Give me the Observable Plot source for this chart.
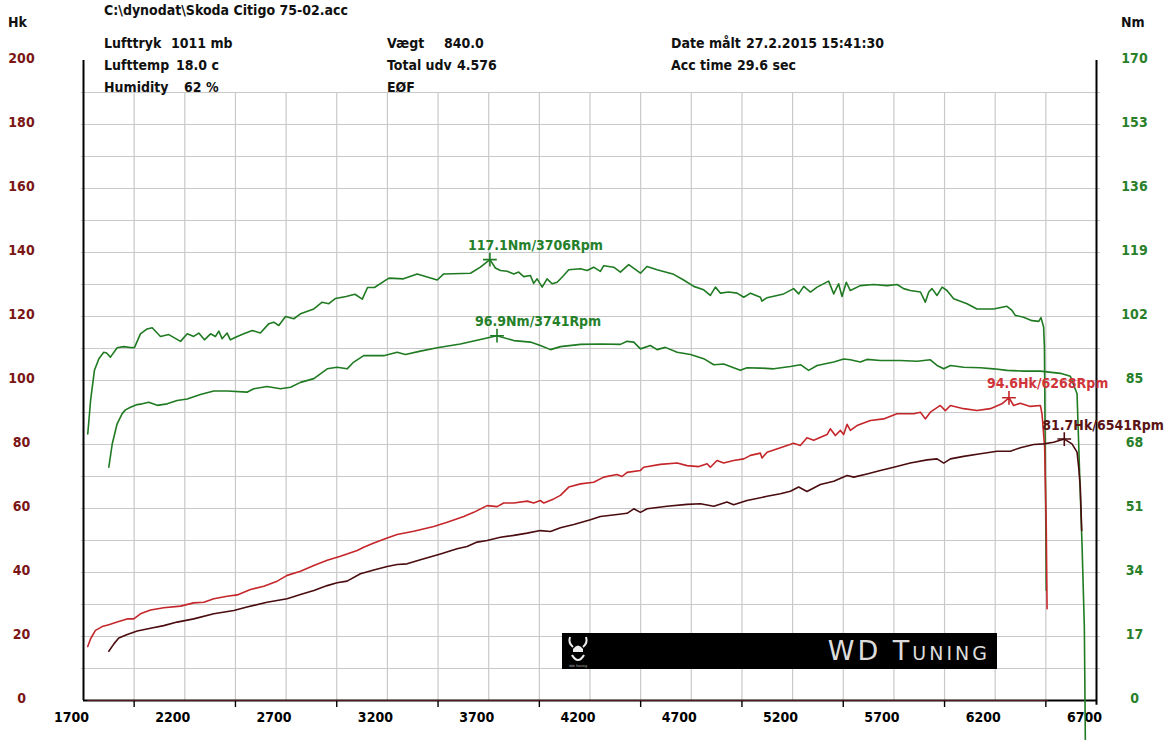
<!DOCTYPE html>
<html><head><meta charset="utf-8">
<script src="https://cdn.jsdelivr.net/npm/d3@7"></script>
<script src="https://cdn.jsdelivr.net/npm/@observablehq/plot@0.6"></script>
<style>
html,body{margin:0;padding:0;background:#fff;}
#wrap{position:relative;width:1170px;height:740px;overflow:hidden;font-family:"DejaVu Sans Condensed","DejaVu Sans",sans-serif;font-weight:bold;}
.t{position:absolute;white-space:pre;font-size:14px;line-height:14px;color:#111;}
#banner{position:absolute;background:#000;}
#banner span{position:absolute;right:7px;top:3px;color:#dcdcdc;font-family:"DejaVu Sans",sans-serif;font-weight:normal;font-variant:small-caps;font-size:27px;letter-spacing:3px;line-height:30px;}
#banner svg{position:absolute;left:3px;top:1px;}
</style></head>
<body><div id="wrap"></div>
<script>
// ---------- data ----------
const fileName = "C:\\dynodat\\Skoda Citigo 75-02.acc";
const infoCol1 = [["Lufttryk", "1011 mb"], ["Lufttemp", "18.0 c"], ["Humidity", "62 %"]];
const infoCol2 = [["Vægt", "840.0"], ["Total udv", "4.576"], ["EØF", ""]];
const infoCol3 = [["Date målt", "27.2.2015 15:41:30"], ["Acc time", "29.6 sec"]];
const leftUnit = "Hk";
const rightUnit = "Nm";
const rpmLabelTicks = [1700, 2200, 2700, 3200, 3700, 4200, 4700, 5200, 5700, 6200, 6700];
const rpmMinorTicks = [1950, 2450, 2950, 3450, 3950, 4450, 4950, 5450, 5950, 6450];
const rpmGrid = [1950, 2200, 2450, 2700, 2950, 3200, 3450, 3700, 3950, 4200, 4450, 4700, 4950, 5200, 5450, 5700, 5950, 6200, 6450];
const hkTicks = [0, 20, 40, 60, 80, 100, 120, 140, 160, 180, 200];
const hkGrid = [10, 20, 30, 40, 50, 60, 70, 80, 90, 100, 110, 120, 130, 140, 150, 160, 170, 180, 190];
const nmMax = 170, hkMax = 200;

// torque run 1 (rpm, Nm)
const torqueHigh = [[1721,70.8],[1735,79.7],[1754,87.7],[1776,90.8],[1800,92.5],[1814,92.3],[1833,91.2],[1866,93.7],[1899,94.0],[1940,93.7],[1952,93.8],[1981,97.4],[2014,98.7],[2039,99.0],[2080,96.7],[2121,97.2],[2179,95.4],[2212,97.4],[2244,96.7],[2269,97.6],[2297,95.8],[2327,97.4],[2351,96.7],[2368,98.1],[2384,96.1],[2409,97.6],[2425,95.8],[2459,96.7],[2491,97.4],[2533,98.3],[2573,97.6],[2615,100.1],[2639,100.5],[2664,99.6],[2697,102.0],[2738,101.4],[2771,102.7],[2837,104.0],[2878,105.8],[2911,105.4],[2944,106.8],[2996,107.3],[3040,107.9],[3076,106.6],[3102,109.7],[3136,109.7],[3190,111.6],[3208,112.2],[3279,112.0],[3347,113.3],[3446,111.7],[3478,113.3],[3610,113.5],[3659,115.1],[3706,117.1],[3733,114.9],[3758,114.2],[3791,114.0],[3824,113.3],[3848,113.8],[3873,112.6],[3906,112.9],[3922,110.8],[3939,112.0],[3964,109.8],[3988,112.0],[4013,110.7],[4038,111.1],[4070,112.9],[4095,114.4],[4153,114.7],[4186,114.2],[4218,115.1],[4251,114.0],[4268,115.5],[4317,115.1],[4350,113.8],[4391,115.8],[4432,114.2],[4449,113.5],[4481,115.3],[4531,114.4],[4613,113.2],[4662,111.7],[4712,110.0],[4761,109.1],[4794,107.6],[4819,109.8],[4844,108.2],[4885,108.5],[4926,108.2],[4959,107.1],[4992,108.2],[5041,107.1],[5049,106.1],[5074,107.0],[5156,108.0],[5205,109.4],[5230,108.0],[5255,110.0],[5288,108.5],[5321,109.8],[5378,111.4],[5403,108.0],[5427,110.7],[5444,107.3],[5465,111.1],[5485,108.9],[5534,110.2],[5600,110.5],[5666,110.2],[5716,110.5],[5748,109.4],[5781,108.9],[5831,108.5],[5855,105.8],[5872,108.5],[5888,109.4],[5913,107.6],[5938,109.8],[5962,108.9],[5995,106.7],[6061,105.4],[6110,104.0],[6192,104.0],[6258,104.7],[6283,103.6],[6299,102.3],[6340,101.8],[6382,100.9],[6415,100.7],[6426,101.7],[6439,99.2],[6443,93.8],[6447,66.4],[6452,29.2]];
// torque run 2 (rpm, Nm)
const torqueLow = [[1825,62.0],[1842,68.2],[1866,73.5],[1891,76.2],[1907,77.2],[1932,77.9],[1965,78.6],[1990,78.8],[2022,79.2],[2064,78.4],[2113,78.8],[2162,79.7],[2212,80.1],[2277,81.3],[2343,82.2],[2409,82.2],[2507,81.9],[2540,82.8],[2606,83.4],[2672,82.8],[2722,83.2],[2771,84.5],[2837,85.5],[2903,88.1],[2952,88.5],[3001,88.1],[3034,89.9],[3083,91.6],[3182,91.6],[3248,92.5],[3289,91.9],[3363,92.8],[3446,93.7],[3560,94.7],[3659,95.9],[3741,96.9],[3824,95.6],[3906,95.2],[3955,94.3],[4005,93.2],[4054,94.0],[4153,94.6],[4251,94.7],[4350,94.6],[4383,95.4],[4416,95.2],[4449,93.4],[4498,94.3],[4531,93.2],[4572,93.8],[4630,92.5],[4696,91.9],[4761,90.8],[4811,89.2],[4860,89.4],[4909,88.4],[4942,87.7],[4975,88.4],[5041,88.3],[5107,88.1],[5189,88.7],[5239,89.2],[5279,87.7],[5321,89.0],[5403,89.9],[5452,90.7],[5485,90.5],[5534,89.9],[5567,90.6],[5633,90.3],[5732,90.3],[5814,90.1],[5880,90.5],[5913,89.0],[5946,88.1],[5979,89.0],[6044,88.5],[6127,88.4],[6192,88.1],[6258,87.7],[6340,87.5],[6423,87.5],[6522,86.9],[6571,86.1],[6604,81.5],[6620,54.9],[6629,40.7],[6640,19.5],[6645,-10.6]];
// power run 1 (rpm, Hk)
const powerHigh = [[1721,16.9],[1735,19.3],[1759,21.9],[1792,23.1],[1825,23.7],[1866,24.5],[1915,25.5],[1948,25.5],[1981,27.1],[2031,28.3],[2096,29.0],[2179,29.5],[2244,30.5],[2294,30.7],[2343,31.8],[2409,32.6],[2459,33.0],[2524,34.7],[2590,35.7],[2656,37.3],[2705,39.1],[2771,40.4],[2837,42.2],[2903,43.8],[2968,45.1],[3051,46.9],[3083,47.9],[3133,49.2],[3199,50.8],[3248,51.9],[3330,52.9],[3429,54.4],[3495,55.7],[3577,57.5],[3626,58.8],[3692,60.9],[3742,60.6],[3774,61.7],[3824,61.7],[3890,62.3],[3922,61.7],[3955,62.5],[3972,61.7],[4021,63.0],[4054,64.1],[4095,66.7],[4153,67.7],[4218,68.2],[4268,69.8],[4333,70.6],[4358,70.0],[4383,71.3],[4449,71.9],[4465,72.9],[4547,73.8],[4630,74.2],[4679,73.4],[4737,73.1],[4778,74.0],[4794,72.9],[4827,75.0],[4860,74.2],[4909,75.0],[4959,75.5],[4992,76.6],[5041,77.3],[5049,75.8],[5074,77.6],[5140,79.0],[5205,80.4],[5238,79.7],[5271,82.1],[5304,81.3],[5370,83.1],[5386,84.9],[5411,82.8],[5436,84.4],[5452,83.1],[5469,86.3],[5485,84.4],[5518,85.9],[5584,87.5],[5649,88.0],[5715,89.6],[5798,89.6],[5831,90.1],[5855,88.0],[5880,90.1],[5929,92.2],[5954,90.6],[5979,92.2],[6044,91.2],[6110,90.6],[6176,91.2],[6233,92.7],[6268,94.6],[6291,92.2],[6324,92.9],[6373,91.9],[6423,92.2],[6431,89.6],[6444,79.2],[6452,54.2],[6456,28.7]];
// power run 2 (rpm, Hk)
const powerLow = [[1825,15.4],[1850,17.7],[1874,19.5],[1916,20.6],[1965,21.7],[2031,22.6],[2096,23.4],[2162,24.5],[2244,25.5],[2343,27.1],[2442,28.1],[2507,29.2],[2606,30.7],[2705,31.8],[2771,33.1],[2837,34.4],[2903,35.9],[2952,36.8],[3001,37.3],[3067,39.6],[3133,40.8],[3199,41.9],[3248,42.5],[3297,42.7],[3363,44.0],[3462,45.8],[3544,47.4],[3593,48.1],[3643,49.5],[3692,50.0],[3758,51.0],[3824,51.6],[3890,52.3],[3955,53.1],[4005,52.8],[4054,54.0],[4120,55.0],[4202,56.5],[4251,57.5],[4334,58.1],[4383,58.5],[4416,59.9],[4449,58.8],[4482,59.9],[4580,60.7],[4679,61.3],[4745,61.5],[4811,60.7],[4876,62.0],[4909,61.2],[4975,62.5],[5074,63.8],[5140,64.6],[5189,65.4],[5230,66.7],[5271,65.3],[5337,67.5],[5403,68.5],[5469,70.3],[5502,69.8],[5567,70.8],[5633,71.9],[5699,72.9],[5781,74.2],[5864,75.2],[5913,75.5],[5946,74.2],[5979,75.5],[6044,76.3],[6127,77.1],[6209,77.9],[6275,77.9],[6324,79.0],[6390,80.0],[6439,80.2],[6488,80.7],[6541,81.7],[6579,80.2],[6604,77.6],[6612,72.9],[6620,66.7],[6627,53.1]];
// loss trace lying on zero
const lossTrace = [[1721,0],[6456,0]];

// peak annotations
const peakRpm = [3706, 3741, 6268, 6541];
const peakVal = [117.1, 96.9, 94.6, 81.7];
const peakUnit = ["Nm", "Nm", "Hk", "Hk"];
const peakSeries = ["torqueHigh", "torqueLow", "powerHigh", "powerLow"];

const bannerText = "WD Tuning";

// ---------- styles ----------
const colors = {torqueHigh: "#1f7a22", torqueLow: "#1f7a22", powerHigh: "#c4262a", powerLow: "#4a0c0e"};
const labelColors = {torqueHigh: "#25802a", torqueLow: "#25802a", powerHigh: "#d0343a", powerLow: "#5a1414"};
const leftTickColor = "#7a1616";
const rightTickColor = "#2a7f2a";

const toHk = nm => nm * hkMax / nmMax;
const rows = (arr, key, conv) => arr.map(([rpm, v]) => ({rpm, v: conv ? conv(v) : v, key}));
const lines = [
  ...rows(torqueHigh, "torqueHigh", toHk),
  ...rows(torqueLow, "torqueLow", toHk),
  ...rows(powerHigh, "powerHigh"),
  ...rows(powerLow, "powerLow")
];
const peaks = peakRpm.map((rpm, i) => ({
  rpm, v: peakUnit[i] === "Nm" ? toHk(peakVal[i]) : peakVal[i],
  key: peakSeries[i],
  label: `${peakVal[i].toFixed(1)}${peakUnit[i]}/${rpm}Rpm`
}));

const chart = Plot.plot({
  width: 1170, height: 740,
  marginLeft: 83, marginRight: 74, marginTop: 60, marginBottom: 40,
  x: {domain: [1700, 6700]},
  y: {domain: [0, hkMax]},
  style: {fontFamily: "'DejaVu Sans Condensed','DejaVu Sans',sans-serif", fontWeight: "bold", fontSize: "13px", background: "#fff", overflow: "visible"},
  marks: [
    Plot.ruleY(hkGrid, {x1: 1690, x2: 6720, stroke: "#c9c9c9", strokeWidth: 1.2}),
    Plot.ruleX(rpmGrid, {y1: 0, y2: 190, stroke: "#c9c9c9", strokeWidth: 1.2}),
    Plot.axisX({ticks: rpmMinorTicks, tickSize: 7, tickFormat: () => "", stroke: "#000", strokeWidth: 1.4, label: null}),
    Plot.axisX({ticks: rpmLabelTicks, tickSize: 0, tickPadding: 12, dx: -12, tickFormat: d => String(d), fill: "#000", fontSize: 14, label: null}),
    Plot.axisY({ticks: hkTicks, anchor: "left", tickSize: 0, tickPadding: 62, textAnchor: "middle", fill: leftTickColor, fontSize: 14, label: null, dy: -2}),
    Plot.axisY({ticks: hkTicks, anchor: "right", tickSize: 0, tickPadding: 38, textAnchor: "middle", fill: rightTickColor, fontSize: 14, label: null, dy: -2,
      tickFormat: d => String(Math.round(d * nmMax / hkMax))}),
    Plot.ruleX([1700], {y1: 0, y2: hkMax, stroke: "#000", strokeWidth: 2}),
    Plot.ruleX([6700], {y1: -1.5, y2: hkMax, stroke: "#000", strokeWidth: 2}),
    Plot.ruleY([0], {x1: 1700, x2: 6700, stroke: "#000", strokeWidth: 2}),
    Plot.line(lossTrace, {x: d => d[0], y: d => d[1], stroke: "#5a1a1a", strokeWidth: 1}),
    Plot.line(lines, {x: "rpm", y: "v", z: "key", stroke: d => colors[d.key], strokeWidth: 1.6}),
    Plot.dot(peaks, {x: "rpm", y: "v", symbol: "plus", r: 4.5, stroke: d => colors[d.key], strokeWidth: 1.6}),
    Plot.text(peaks, {x: "rpm", y: "v", text: "label", dx: -22, dy: -14, textAnchor: "start", fill: d => labelColors[d.key], fontSize: 14})
  ]
});

const wrap = document.getElementById("wrap");
wrap.appendChild(chart);

function addText(txt, left, cy, extra) {
  const d = document.createElement("div");
  d.className = "t";
  d.textContent = txt;
  d.style.left = left + "px";
  d.style.top = (cy - 7) + "px";
  if (extra) Object.assign(d.style, extra);
  wrap.appendChild(d);
  return d;
}
function addPair(k, v, left, valLeft, cy) {
  const kd = addText(k, left, cy);
  if (v) {
    const minLeft = left + kd.offsetWidth + 5;
    addText(v, Math.max(valLeft, minLeft), cy);
  }
}
addText(fileName, 104, 10);
addText(leftUnit, 8, 22, {fontSize: "14px"});
addText(rightUnit, 1121, 22, {fontSize: "14px"});
const rowY = [43, 65, 87];
const col1ValX = [171, 176, 184];
infoCol1.forEach(([k, v], i) => addPair(k, v, 104, col1ValX[i], rowY[i]));
const col2ValX = [444, 455, 0];
infoCol2.forEach(([k, v], i) => addPair(k, v, 387, col2ValX[i], rowY[i]));
const col3ValX = [740, 737];
infoCol3.forEach(([k, v], i) => addPair(k, v, 671, col3ValX[i], rowY[i]));

const b = document.createElement("div");
b.id = "banner";
Object.assign(b.style, {left: "562px", top: "633px", width: "435px", height: "36px"});
b.innerHTML = `<svg width="26" height="34" viewBox="0 0 26 34">
  <path d="M5 3 Q3 9 8 13 M21 3 Q23 9 18 13" stroke="#eee" stroke-width="2" fill="none"/>
  <path d="M8 15 Q13 8 18 15 Z" fill="#eee"/>
  <rect x="8" y="15" width="10" height="3" fill="#eee"/>
  <path d="M7 21 Q13 31 19 21" stroke="#eee" stroke-width="2.2" fill="none"/>
  <text x="13" y="33" fill="#888" font-size="3" text-anchor="middle" font-family="DejaVu Sans">WD Tuning</text>
</svg>`;
const bs = document.createElement("span");
bs.textContent = bannerText;
b.appendChild(bs);
wrap.appendChild(b);
</script></body></html>
